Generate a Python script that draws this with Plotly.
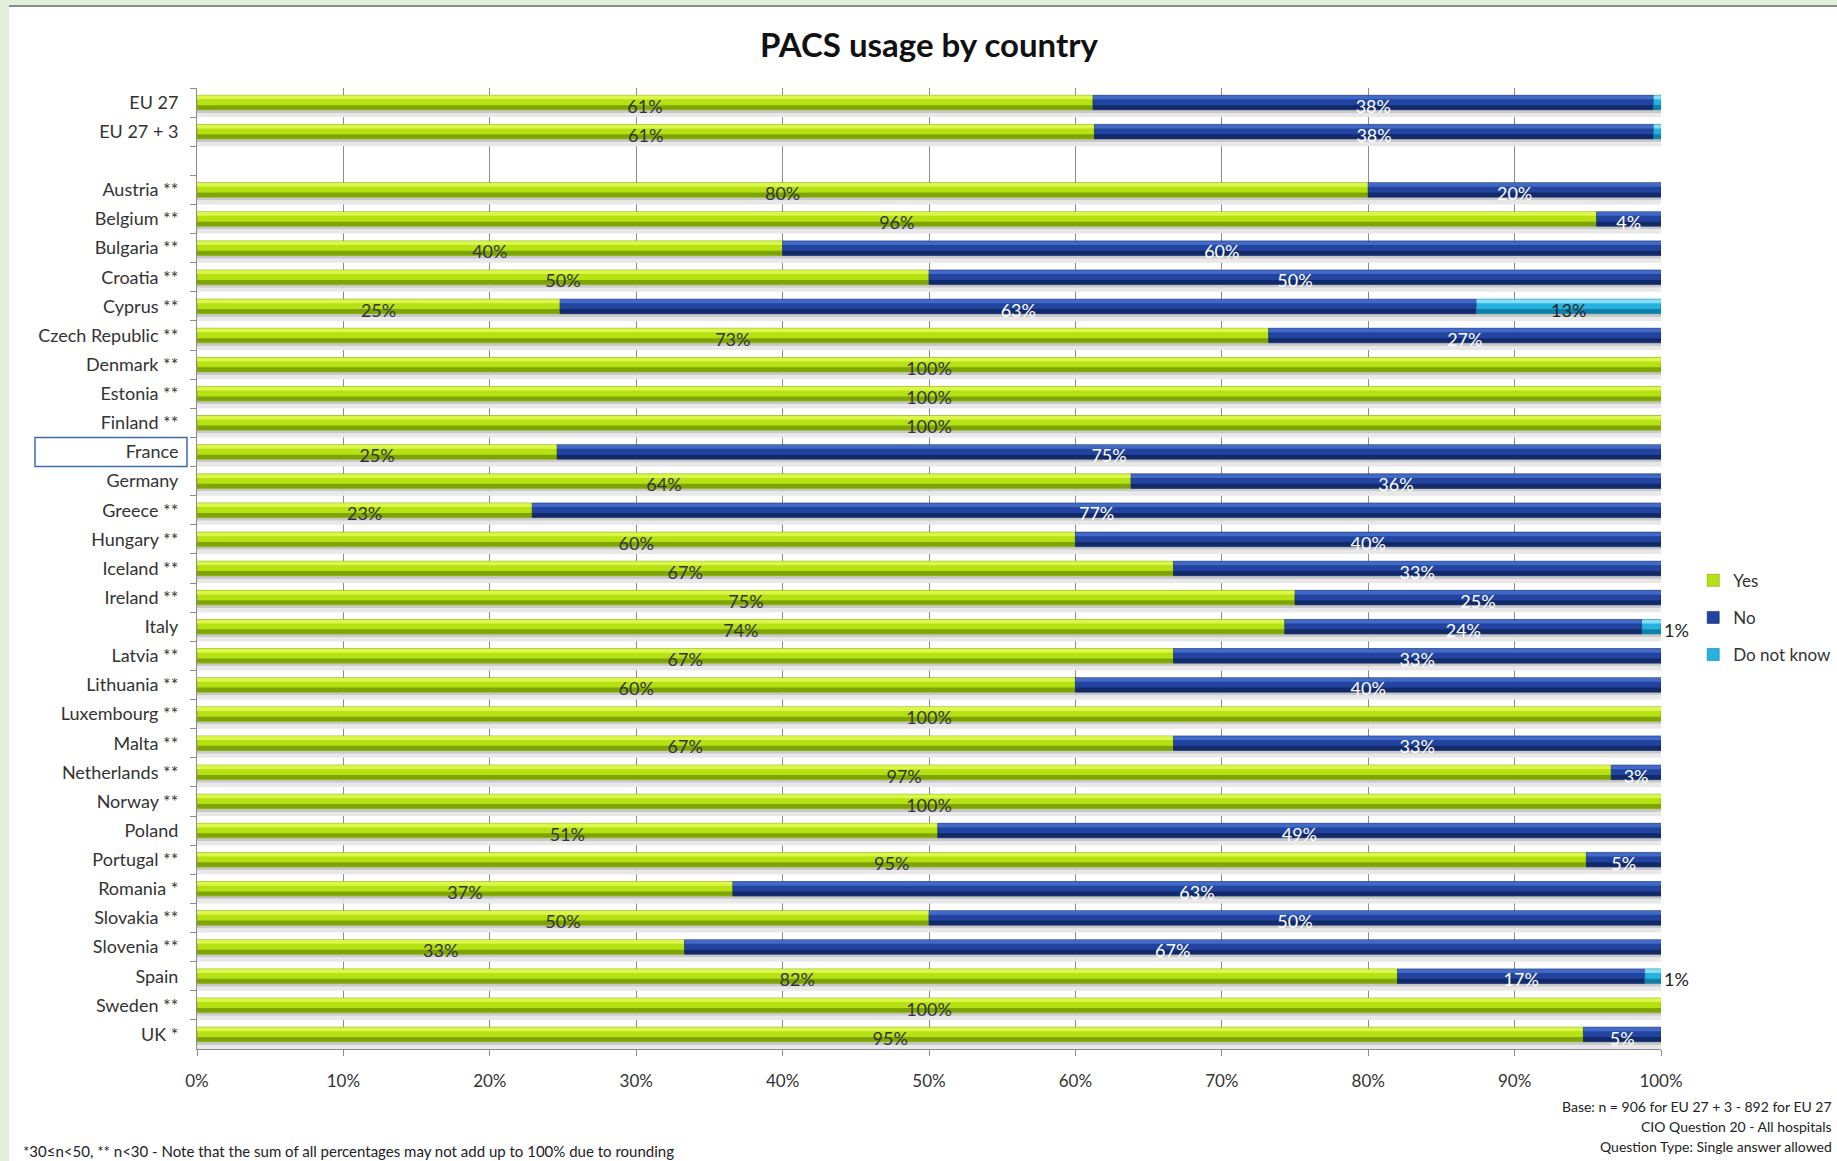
import plotly.graph_objects as go

# ---------------- data ----------------
categories = [
    "EU 27", "EU 27 + 3", " ",
    "Austria **", "Belgium **", "Bulgaria **", "Croatia **", "Cyprus **",
    "Czech Republic **", "Denmark **", "Estonia **", "Finland **", "France",
    "Germany", "Greece **", "Hungary **", "Iceland **", "Ireland **", "Italy",
    "Latvia **", "Lithuania **", "Luxembourg **", "Malta **", "Netherlands **",
    "Norway **", "Poland", "Portugal **", "Romania *", "Slovakia **",
    "Slovenia **", "Spain", "Sweden **", "UK *",
]
yes = [61.2, 61.3, 0,
       80, 95.6, 40, 50, 24.8,
       73.2, 100, 100, 100, 24.6,
       63.8, 22.9, 60, 66.7, 75, 74.3,
       66.7, 60, 100, 66.7, 96.6,
       100, 50.6, 94.9, 36.6, 50,
       33.3, 82.0, 100, 94.7]
no = [38.3, 38.2, 0,
      20, 4.4, 60, 50, 62.6,
      26.8, 0, 0, 0, 75.4,
      36.2, 77.1, 40, 33.3, 25, 24.4,
      33.3, 40, 0, 33.3, 3.4,
      0, 49.4, 5.1, 63.4, 50,
      66.7, 16.9, 0, 5.3]
dnk = [0.5, 0.5, 0,
       0, 0, 0, 0, 12.6,
       0, 0, 0, 0, 0,
       0, 0, 0, 0, 0, 1.3,
       0, 0, 0, 0, 0,
       0, 0, 0, 0, 0,
       0, 1.1, 0, 0]
series_names = ["Yes", "No", "Do not know"]
x_ticks = [0, 10, 20, 30, 40, 50, 60, 70, 80, 90, 100]
x_tick_labels = ["0%", "10%", "20%", "30%", "40%", "50%", "60%", "70%", "80%", "90%", "100%"]
title_text = "PACS usage by country"
note_left = "*30≤n<50, ** n<30 - Note that the sum of all percentages may not add up to 100% due to rounding"
notes_right = ["Base: n = 906 for EU 27 + 3 - 892 for EU 27",
               "CIO Question 20 - All hospitals",
               "Question Type: Single answer allowed"]
highlight_category = "France"

# ---------------- styling ----------------
FONT = "Lato"
palette = {
    "Yes": ("#b6e214", "#dcf64a", "#7ea406"),
    "No": ("#2244a0", "#4169c6", "#132a68"),
    "Do not know": ("#26b2df", "#86def6", "#0f7fa6"),
}
label_color = {"Yes": "#333333", "No": "#ffffff", "Do not know": "#222222"}

values = {"Yes": yes, "No": no, "Do not know": dnk}
bases = {
    "Yes": [0] * len(yes),
    "No": list(yes),
    "Do not know": [a + b for a, b in zip(yes, no)],
}
totals = [a + b + c for a, b, c in zip(yes, no, dnk)]


def nz(seq):
    return [s if s > 0 else None for s in seq]


fig = go.Figure()

# shadow under each bar
fig.add_trace(go.Bar(y=categories, x=nz(totals), base=[0] * len(totals), orientation="h",
                     width=0.16, offset=0.2, marker=dict(color="#c9c9c9", line=dict(width=0)),
                     showlegend=False, hoverinfo="skip"))
fig.add_trace(go.Bar(y=categories, x=nz(totals), base=[0] * len(totals), orientation="h",
                     width=0.14, offset=0.36, marker=dict(color="#e8e8e8", line=dict(width=0)),
                     showlegend=False, hoverinfo="skip"))

for name in series_names:
    main_c, light_c, dark_c = palette[name]
    v = nz(values[name])
    b = bases[name]
    fig.add_trace(go.Bar(y=categories, x=v, base=b, orientation="h", name=name,
                         width=0.5, offset=-0.25, legendgroup=name,
                         marker=dict(color=main_c, line=dict(color=dark_c, width=0.6)),
                         hoverinfo="skip"))
    fig.add_trace(go.Bar(y=categories, x=v, base=b, orientation="h",
                         width=0.13, offset=-0.24, legendgroup=name, showlegend=False,
                         marker=dict(color=light_c, line=dict(width=0)), hoverinfo="skip"))
    fig.add_trace(go.Bar(y=categories, x=v, base=b, orientation="h",
                         width=0.15, offset=0.09, legendgroup=name, showlegend=False,
                         marker=dict(color=dark_c, line=dict(width=0)), hoverinfo="skip"))

# labels
for name in series_names:
    v = values[name]
    b = bases[name]
    texts, positions = [], []
    for val in v:
        if round(val) >= 1:
            texts.append(f"{val:.0f}%")
            positions.append("inside" if val >= 5 else ("outside" if name == "Do not know" else "inside"))
        else:
            texts.append("")
            positions.append("none")
    colors = [label_color[name] if p == "inside" else "#222222" for p in positions]
    fig.add_trace(go.Bar(y=categories, x=nz(v), base=b, orientation="h",
                         width=0.5, offset=-0.14, showlegend=False, hoverinfo="skip",
                         marker=dict(color="rgba(0,0,0,0)", line=dict(width=0)),
                         text=texts, textposition=positions, insidetextanchor="middle",
                         constraintext="none", cliponaxis=False,
                         textfont=dict(family=FONT, size=18, color=colors),
                         outsidetextfont=dict(family=FONT, size=18, color="#222222")))

idx = categories.index(highlight_category)

fig.update_layout(
    width=1837, height=1161,
    barmode="overlay",
    paper_bgcolor="#e2efd9",
    plot_bgcolor="#ffffff",
    margin=dict(l=197, r=176, t=88, b=112, autoexpand=False),
    font=dict(family=FONT, size=16, color="#333333"),
    title=dict(text=f"<b>{title_text}</b>", x=0.5, xref="paper", xanchor="center",
               y=1 - 45 / 1161, yanchor="middle", font=dict(family=FONT, size=33, color="#111111")),
    xaxis=dict(range=[0, 100], tickvals=x_ticks, ticktext=x_tick_labels,
               showgrid=True, gridcolor="#8c8c8c", gridwidth=1, zeroline=False,
               showline=True, linecolor="#8c8c8c", linewidth=1,
               ticks="outside", ticklen=6, tickcolor="#8c8c8c",
               ticklabelstandoff=11, tickfont=dict(family=FONT, size=17, color="#333333"),
               fixedrange=True),
    yaxis=dict(type="category", autorange="reversed", showgrid=False,
               showline=True, linecolor="#8c8c8c", linewidth=1,
               ticks="outside", ticklen=6, tickcolor="#8c8c8c", tickson="boundaries",
               ticklabelstandoff=14, tickfont=dict(family=FONT, size=18, color="#333333"),
               fixedrange=True),
    legend=dict(x=1.022, y=0.506, xanchor="left", yanchor="top",
                bgcolor="rgba(0,0,0,0)", font=dict(family=FONT, size=17, color="#333333"),
                tracegroupgap=12, traceorder="grouped", itemwidth=30),
    showlegend=True,
)

# page frame: light green strips with a grey rule at top
fig.add_shape(type="rect", xref="paper", yref="paper", x0=(9 - 197) / 1464, x1=2.0,
              y0=-1.0, y1=1 + (88 - 7) / 961, fillcolor="#ffffff", line=dict(width=0), layer="below")
fig.add_shape(type="line", xref="paper", yref="paper", x0=(9 - 197) / 1464, x1=2.0,
              y0=1 + (88 - 6) / 961, y1=1 + (88 - 6) / 961, line=dict(color="#8c8c8c", width=2),
              layer="below")

# box around highlighted category label
fig.add_shape(type="rect", xref="paper", yref="y", x0=(35 - 197) / 1464, x1=(187 - 197) / 1464,
              y0=idx - 0.5, y1=idx + 0.5, line=dict(color="#3c6ea8", width=1.5),
              fillcolor="rgba(0,0,0,0)")

fig.add_annotation(text=note_left, xref="paper", yref="paper", x=(21 - 197) / 1464,
                   y=1 - (1151 - 88) / 961, xanchor="left", yanchor="middle", showarrow=False,
                   font=dict(family=FONT, size=15, color="#222222"))
for i, line in enumerate(notes_right):
    fig.add_annotation(text=line, xref="paper", yref="paper", x=(1834 - 197) / 1464,
                       y=1 - (1106 + 20 * i - 88) / 961, xanchor="right", yanchor="middle",
                       showarrow=False, font=dict(family=FONT, size=14, color="#222222"))

fig.write_html("out.html", config={"displayModeBar": False},
               post_script="document.body.style.margin='0';document.body.style.overflow='hidden';")
